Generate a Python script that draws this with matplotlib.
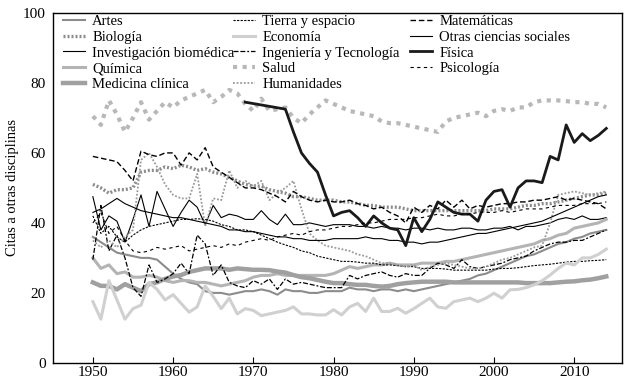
import numpy as np
import matplotlib
matplotlib.use("Agg")
import matplotlib.pyplot as plt

plt.rcParams['font.family'] = ['Liberation Serif', 'DejaVu Serif']

years = list(range(1950, 2015))

artes = [36, 34.5, 33, 31.5, 31, 30.5, 30, 30, 29.5, 27.5, 25.5, 24, 23, 22.5, 20.5, 20, 20, 19.5, 20, 20.5,
         20.5, 21, 20.5, 19.5, 21, 20.5, 20.5, 20, 20, 20.5, 20.5, 20.5, 21.5, 21, 21, 20.5, 21, 21, 20.5, 21,
         20.5, 21, 21.5, 22, 22.5, 23, 23.5, 24, 25, 25.5, 26.5, 27.5, 28.5, 29.5, 30.5, 31, 32, 33, 34, 34.5,
         35.5, 36, 37, 37.5, 38]
biologia = [51, 50, 48.5, 49.5, 49.5, 50, 54.5, 55, 55, 56, 55.5, 56.5, 56, 55, 55.5, 54.5, 54, 53, 52, 51,
            50.5, 50.5, 49.5, 49, 48.5, 47.5, 47.5, 47, 46.5, 46.5, 46.5, 46, 46, 45.5, 45, 45, 44.5, 44.5, 44.5, 44,
            43.5, 43.5, 43.5, 43.5, 43.5, 43.5, 43.5, 43.5, 43.5, 43.5, 44, 44, 44, 44.5, 45, 45, 45.5, 45.5, 46, 46.5,
            47, 47.5, 48, 48, 48.5]
inv_biomedica = [47.5, 38, 42, 40.5, 34.5, 41, 48, 39, 49, 44, 39, 43, 46.5, 44.5, 39.5, 45, 41.5, 42.5, 42, 41,
                 41, 43.5, 41, 39.5, 42.5, 39.5, 39.5, 40, 39.5, 39, 39.5, 39.5, 39.5, 39, 39, 38.5, 39, 38.5, 38.5, 38,
                 38.5, 38.5, 38, 38.5, 38, 38, 38.5, 38.5, 38, 38, 38.5, 38.5, 39, 38, 39, 39, 39.5, 40, 41, 41.5,
                 41, 42, 41, 41, 41.5]
quimica = [30, 27, 28, 25.5, 26, 24.5, 24.5, 25, 24.5, 23.5, 23, 23.5, 23.5, 23, 23, 22.5, 22, 22.5, 23, 23.5,
           24.5, 25, 25, 25.5, 25, 25, 25, 25, 25, 25, 25.5, 26.5, 27.5, 27, 27.5, 28, 28, 28.5, 28, 28,
           28, 28.5, 28.5, 28.5, 29, 29, 29.5, 30, 30.5, 31, 31.5, 32, 32.5, 33, 33.5, 34, 35, 35.5, 36.5, 37,
           38.5, 39, 39.5, 40, 41]
medicina = [23, 22, 22, 21, 22.5, 21.5, 20.5, 22.5, 23, 24, 24.7, 25.1, 26, 26.5, 27, 27, 27, 26.6, 27, 26.8,
            26.6, 26.6, 26.5, 26.1, 25.8, 25.1, 24.5, 24.2, 23.7, 23.2, 22.8, 22.8, 22.5, 22.3, 22.3, 22, 21.8, 22, 22.5, 22.8,
            23, 23.2, 23.2, 23.2, 23.2, 23, 23, 23, 23, 23, 23, 23, 23, 23, 22.8, 22.8, 22.8, 22.8, 23, 23.2,
            23.3, 23.6, 23.8, 24.2, 24.7]
tierra = [42, 37, 39, 36, 34.5, 36.5, 38, 39, 39.5, 40, 40.5, 41, 41, 41.2, 41, 40.5, 39.5, 39, 38, 38,
          37.5, 36.5, 35.5, 34.5, 33.7, 33, 32, 31.5, 30.5, 30, 29.5, 29, 29, 28.8, 28.5, 28.5, 28, 28, 27.8, 27.5,
          27.5, 27, 27, 27, 26.8, 26.5, 26.5, 26.5, 26.5, 26.5, 26.8, 27, 27, 27.2, 27.5, 27.8, 28, 28.2, 28.5, 28.8,
          29, 29, 29.2, 29.3, 29.5]
economia = [17.5, 12.5, 23.5, 18, 12.5, 15.5, 16.5, 23, 21, 18, 19.5, 17, 14.5, 16, 22, 19, 15.5, 18.5, 14, 15.5,
            15, 13.5, 14, 14.5, 15, 16, 14, 14, 13.7, 13.7, 15.2, 13.7, 16, 17, 14.7, 18.5, 14.7, 14.7, 15.6, 14.2,
            15.5, 17, 18.5, 16, 15.6, 17.5, 18, 18.5, 17.5, 18.5, 19.9, 18.5, 20.9, 21, 21.5, 22.3, 23.5, 25.1, 27, 28.5,
            28, 30, 30, 31, 32.5]
ingenieria = [29.5, 45, 32, 36.5, 30, 21.5, 19, 28, 23, 24, 25.5, 28.5, 25.5, 36.5, 34, 25, 28, 23, 22, 21.5,
              23.5, 22.5, 24, 21, 24, 22.5, 23, 22.5, 22, 21.5, 21.5, 21.5, 25, 24, 25, 25.5, 26, 25, 24.5, 25.5,
              25, 25, 27, 28.5, 28, 27, 29.5, 27.5, 27, 27.5, 28, 28.5, 29.5, 30, 30.5, 32, 33, 34, 34.5, 34.5,
              35, 35, 36, 37, 38]
salud = [70.5, 68, 75, 71, 66, 70, 74.5, 69.5, 72, 74.5, 73, 75, 76, 77, 78, 74.5, 76, 78, 77, 74,
         72, 75.5, 72, 72.5, 73, 70, 68.5, 71, 73, 75, 74, 73, 72, 71.5, 71, 70.5, 69, 68.5, 68.5, 68,
         67.5, 67, 66.5, 66, 69, 70, 70.5, 71, 71.5, 70.5, 72, 72.5, 72, 73, 73, 74.5, 75, 75, 75, 74.8,
         74.5, 74.5, 74, 74, 73]
humanidades = [35, 33, 35, 33, 36, 38, 58, 60, 56, 51, 48, 47, 47, 54, 39, 47, 46.5, 55, 50, 52,
               50.5, 52, 46.5, 48.5, 50, 52, 44, 37, 35, 33.5, 33, 32.5, 32, 31, 30.5, 29.5, 28.5, 28.5, 28, 27.5,
               28, 26.5, 27.5, 28, 28.5, 28, 27.5, 27, 27, 27.5, 28.5, 29.5, 30, 31, 32, 33, 33.5, 40, 48, 48.5,
               49, 48.5, 48, 48.5, 49]
matematicas = [59, 58.5, 58, 57.5, 55, 52, 60.5, 59.5, 59, 60, 60, 56.5, 60, 58, 61.5, 56, 54.5, 53, 51.5, 50,
               50, 49.5, 48.5, 47.5, 46, 49, 47.5, 46.5, 46, 46.5, 46, 46, 46.5, 45.5, 45, 44, 44.5, 43, 42, 40,
               44.5, 43, 45, 44, 46.5, 44.5, 46.5, 44, 45, 44.5, 45, 45.5, 45.5, 46, 46, 46.5, 46.5, 47, 47.5, 46.5,
               47, 46.5, 46, 45.5, 44]
otras_sociales = [43, 44, 45.5, 47, 45.5, 44.5, 43.5, 43, 42.5, 42, 41.5, 41.5, 41, 40.5, 40, 39.5, 39, 38, 38, 37.5,
                  37.5, 37, 36.5, 36, 36, 35.5, 35.5, 35, 35, 35, 35.5, 35.5, 35.5, 35.5, 36, 35.5, 35.5, 35, 35, 34.5,
                  34.5, 34, 34.5, 34.5, 35, 35.5, 36, 36.5, 37, 37, 37.5, 38, 38.5, 39, 39.5, 40, 40.5, 41.5, 42.5, 43.5,
                  44.5, 45.5, 46.5, 47.5, 48]
psicologia = [40, 43, 37, 39, 35, 32, 31.5, 32, 33, 32.5, 33, 33.5, 32, 32.5, 33, 33.5, 33, 34, 33.5, 34.5,
              35, 35.5, 35, 36, 36.5, 37, 36.5, 37.5, 38, 38, 38.5, 39, 39, 39.5, 40, 40, 40.5, 41, 41, 41,
              41.5, 41.5, 42, 42.5, 42, 42, 42.5, 42.5, 43, 43, 43, 43.5, 43, 43.5, 44, 44, 44, 44.5, 45, 45,
              45, 45.5, 45.5, 45.5, 46]

fisica_years = [1969] + list(range(1974, 2015))
fisica = [74.5, 72.5, 66, 60, 57, 54.5, 48, 42, 43, 43.5, 41.5, 39, 42, 40, 38.5, 38, 33.5, 41.5, 37.5, 41, 46,
          44.5, 43, 42.5, 42.5, 40.5, 46.5, 49, 49.5, 44.5, 50, 52, 52, 51.5, 59, 58, 68, 63, 65.5, 63.5, 65, 67]

fig = plt.figure(figsize=(6.28, 3.80), dpi=100)
ax = fig.add_axes([0.084, 0.045, 0.907, 0.921])

lines = []
lines += ax.plot(years, artes, color='#8c8c8c', lw=1.5, label='Artes')
lines += ax.plot(years, biologia, color='#8c8c8c', lw=2.4, linestyle=(0, (0.6, 0.6)), label='Biología')
lines += ax.plot(years, inv_biomedica, color='black', lw=0.8, label='Investigación biomédica')
lines += ax.plot(years, quimica, color='#b4b4b4', lw=2.2, label='Química')
lines += ax.plot(years, medicina, color='#a0a0a0', lw=3.2, label='Medicina clínica')
lines += ax.plot(years, tierra, color='black', lw=0.8, linestyle=(0, (2, 1.2)), label='Tierra y espacio')
lines += ax.plot(years, economia, color='#d0d0d0', lw=2.2, label='Economía')
lines += ax.plot(years, ingenieria, color='black', lw=0.9, linestyle=(0, (4, 1.5, 4, 1.5, 1.5, 1.5)),
                 label='Ingeniería y Tecnología')
lines += ax.plot(years, salud, color='#b8b8b8', lw=3, linestyle=(0, (1, 1.3)), label='Salud')
lines += ax.plot(years, humanidades, color='#9a9a9a', lw=1.3, linestyle=(0, (1, 1)), label='Humanidades')
lines += ax.plot(years, matematicas, color='black', lw=1.0, linestyle=(0, (4, 2)), label='Matemáticas')
lines += ax.plot(years, otras_sociales, color='black', lw=0.8, label='Otras ciencias sociales')
lines += ax.plot(fisica_years, fisica, color='#1a1a1a', lw=2.0, label='Física')
lines += ax.plot(years, psicologia, color='black', lw=0.8, linestyle=(0, (3, 3)), label='Psicología')

ax.set_xlim(1945, 2016)
ax.set_ylim(0, 100)
ax.set_xticks([1950, 1960, 1970, 1980, 1990, 2000, 2010])
ax.set_yticks([0, 20, 40, 60, 80, 100])
ax.tick_params(axis='x', direction='in', length=4, labelsize=11, pad=2)
ax.tick_params(axis='y', length=0, labelsize=11, pad=5)
for s in ax.spines.values():
    s.set_linewidth(1.0)
ax.set_ylabel('Citas a otras disciplinas', fontsize=10.5, labelpad=3)

# three legend columns placed separately, like the original
col_x = [0.018, 0.3165, 0.6275]
groups = [lines[0:5], lines[5:10], lines[10:14]]
for i, (x0, grp) in enumerate(zip(col_x, groups)):
    leg = ax.legend(handles=grp, loc='upper left', bbox_to_anchor=(x0, 0.995), frameon=False,
                    fontsize=10.5, handlelength=1.5, handletextpad=0.5,
                    labelspacing=0.18, borderpad=0.0, borderaxespad=0.0)
    if i < 2:
        ax.add_artist(leg)

fig.savefig('out.png', dpi=100)
